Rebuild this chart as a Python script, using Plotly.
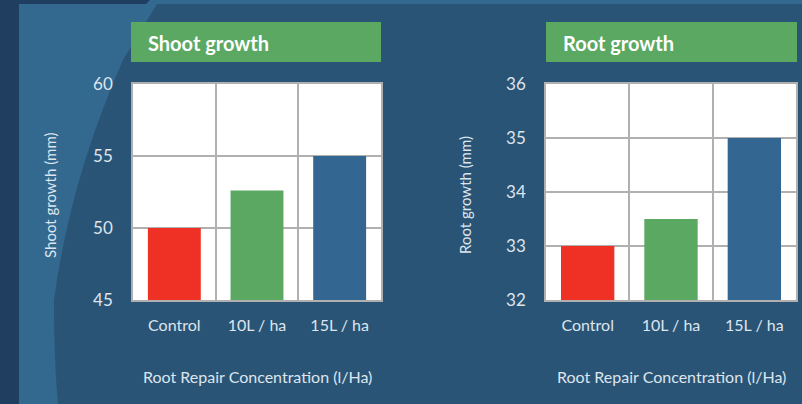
import plotly.graph_objects as go

W, H = 802, 404

categories = ["Control", "10L / ha", "15L / ha"]
shoot_values = [50, 52.6, 55]
root_values = [33, 33.5, 35]
bar_colors = ["#ee3124", "#5aa862", "#336791"]
shoot_ticks = [45, 50, 55, 60]
root_ticks = [32, 33, 34, 35, 36]

BG = "#2a5475"
LIGHT = "#33688f"
DARK = "#1f3e60"
GREEN = "#5aa862"
GRID = "#b0b0b0"
TXT = "#dde5ee"
FONT = "Lato"


def px(x):
    return x / W


def py(y):
    return 1 - y / H


fig = go.Figure()
fig.add_trace(go.Bar(x=categories, y=shoot_values, marker=dict(color=bar_colors, line=dict(width=0)),
                     xaxis="x", yaxis="y", showlegend=False))
fig.add_trace(go.Bar(x=categories, y=root_values, marker=dict(color=bar_colors, line=dict(width=0)),
                     xaxis="x2", yaxis="y2", showlegend=False))

ydom = [py(300), py(84)]

xcommon = dict(type="category", tickson="boundaries", showgrid=True, gridcolor=GRID, gridwidth=1.5,
               showline=True, linecolor=GRID, linewidth=1.5, mirror=True, ticks="",
               tickfont=dict(family=FONT, size=16, color=TXT), ticklabelstandoff=10,
               automargin=False, fixedrange=True)
ycommon = dict(showgrid=True, gridcolor=GRID, gridwidth=1.5, showline=True, linecolor=GRID,
               linewidth=1.5, mirror=True, ticks="", zeroline=False, automargin=False,
               tickfont=dict(family=FONT, size=17, color=TXT), ticklabelstandoff=15)

shapes = [
    dict(type="rect", xref="paper", yref="paper", x0=0, x1=px(19), y0=0, y1=1,
         fillcolor=DARK, line=dict(width=0), layer="below"),
    dict(type="rect", xref="paper", yref="paper", x0=0, x1=1, y0=py(4), y1=1,
         fillcolor=LIGHT, line=dict(width=0), layer="below"),
    dict(type="path", xref="paper", yref="paper",
         path=(f"M 0 {py(0)} L {px(150)} {py(0)} L {px(146)} {py(4)} L 0 {py(4)} Z"),
         fillcolor=DARK, line=dict(width=0), layer="below"),
    dict(type="path", xref="paper", yref="paper",
         path=(f"M {px(19)} {py(4)} L {px(157)} {py(4)} L {px(123)} {py(60)} "
               f"Q {px(70)} {py(180)} {px(54)} {py(300)} "
               f"Q {px(54)} {py(360)} {px(58)} {py(404)} L {px(19)} {py(404)} Z"),
         fillcolor=LIGHT, line=dict(width=0), layer="below"),
    dict(type="rect", xref="paper", yref="paper", x0=px(131), x1=px(381), y0=py(62), y1=py(22),
         fillcolor=GREEN, line=dict(width=0)),
    dict(type="rect", xref="paper", yref="paper", x0=px(546), x1=px(797), y0=py(62), y1=py(22),
         fillcolor=GREEN, line=dict(width=0)),
]

annotations = [
    dict(text="<b>Shoot growth</b>", xref="paper", yref="paper", x=px(146), y=py(43),
         xanchor="left", yanchor="middle", showarrow=False,
         font=dict(family=FONT, size=20, color="white")),
    dict(text="<b>Root growth</b>", xref="paper", yref="paper", x=px(561), y=py(43),
         xanchor="left", yanchor="middle", showarrow=False,
         font=dict(family=FONT, size=20, color="white")),
    dict(text="Shoot growth (mm)", xref="paper", yref="paper", x=px(50), y=py(195),
         xanchor="center", yanchor="middle", textangle=-90, showarrow=False,
         font=dict(family=FONT, size=15, color=TXT)),
    dict(text="Root growth (mm)", xref="paper", yref="paper", x=px(465), y=py(195),
         xanchor="center", yanchor="middle", textangle=-90, showarrow=False,
         font=dict(family=FONT, size=15, color=TXT)),
    dict(text="Root Repair Concentration (l/Ha)", xref="paper", yref="paper", x=px(257), y=py(376),
         xanchor="center", yanchor="middle", showarrow=False,
         font=dict(family=FONT, size=16, color=TXT)),
    dict(text="Root Repair Concentration (l/Ha)", xref="paper", yref="paper", x=px(671), y=py(376),
         xanchor="center", yanchor="middle", showarrow=False,
         font=dict(family=FONT, size=16, color=TXT)),
]

fig.update_layout(
    width=W, height=H,
    margin=dict(l=0, r=0, t=0, b=0, pad=0, autoexpand=False),
    paper_bgcolor=BG, plot_bgcolor="white",
    bargap=0.36,
    xaxis=dict(domain=[px(133), px(381)], anchor="y", **xcommon),
    yaxis=dict(domain=ydom, anchor="x", range=[45, 60], tickvals=shoot_ticks, **ycommon),
    xaxis2=dict(domain=[px(546), px(796)], anchor="y2", **xcommon),
    yaxis2=dict(domain=ydom, anchor="x2", range=[32, 36], tickvals=root_ticks, **ycommon),
    shapes=shapes,
    annotations=annotations,
)

fig.write_html("out.html", config={"displayModeBar": False},
               post_script="document.body.style.margin='0';document.body.style.overflow='hidden';")
